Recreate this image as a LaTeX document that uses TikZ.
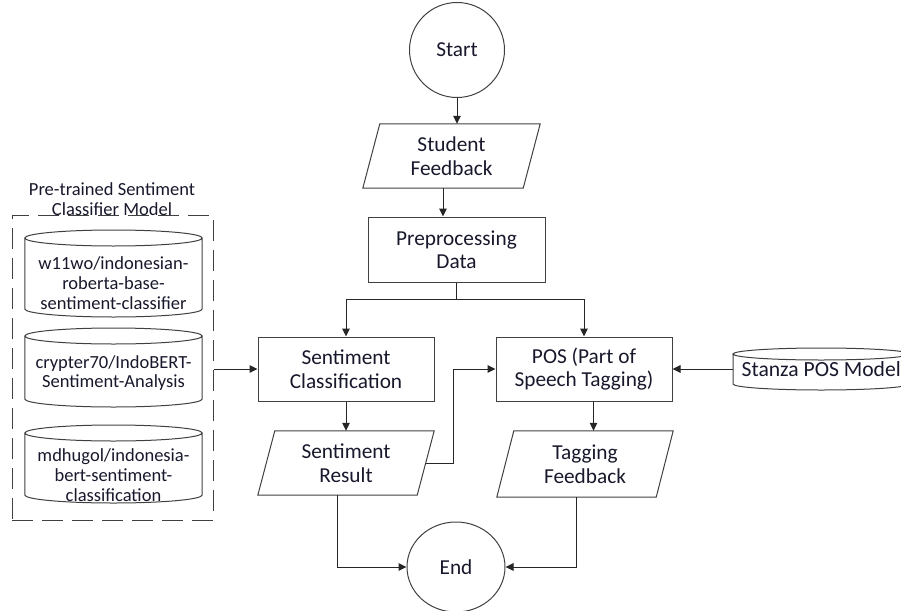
\documentclass[tikz,border=0pt]{standalone}
\usepackage{fontspec}
\setmainfont{Carlito}
\usetikzlibrary{shapes.geometric,arrows.meta,calc}
\definecolor{txt}{RGB}{24,24,44}
\definecolor{ln}{RGB}{64,64,64}
\newcommand\drawpara[2]{\draw[shapeline] ([xshift=#2]#1.north west) -- ([xshift=#2]#1.north east) -- ([xshift=-#2]#1.south east) -- ([xshift=-#2]#1.south west) -- cycle;}
\newcommand\drawcyl[4]{%
 \draw[shapeline] let \p1=(#1.west), \p2=(#1.east), \n1={(\x2-\x1)/2} in
 (\x1,#2pt-#4pt) -- (\x1,#3pt+#4pt) arc[start angle=180,end angle=360,x radius=\n1,y radius=#4pt] -- (\x2,#2pt-#4pt)
 (\x1+\n1,#2pt-#4pt) ellipse[x radius=\n1,y radius=#4pt];}
\begin{document}
\begin{tikzpicture}[x=1pt,y=1pt,
 every node/.style={text=txt, align=center},
 mainfont/.style={font=\fontsize{21.3}{23.5}\selectfont},
 smallfont/.style={font=\fontsize{18.5}{19.8}\selectfont},
 proc/.style={mainfont, draw=ln, line width=1pt, minimum width=176pt, minimum height=64pt, inner sep=0pt},
 term/.style={mainfont, draw=ln, line width=1pt, circle, minimum size=95pt, inner sep=0pt},
 iobox/.style={mainfont, minimum height=64pt, inner sep=0pt},
 cylbox/.style={smallfont, inner sep=0pt, minimum width=177pt},
 edge/.style={draw=black!85, line width=1pt},
 arr/.style={edge, -{Triangle[length=8pt,width=7.5pt]}},
 shapeline/.style={draw=ln, line width=1pt}
]
\useasboundingbox (0,0) rectangle (901,-610);

\node[term] (start) at (457,-50) {Start};
\node[iobox, minimum width=160pt] (sf) at (451.5,-156) {Student\\Feedback};
\drawpara{sf}{8.5pt}
\node[proc, minimum width=177pt, minimum height=65pt] (pre) at (456.5,-249.5) {Preprocessing\\Data};
\node[proc] (sc) at (346,-369) {Sentiment\\Classification};
\node[proc] (pos) at (584,-369) {POS (Part of\\Speech Tagging)};
\node[iobox, minimum width=159pt] (sr) at (346,-463) {Sentiment\\Result};
\drawpara{sr}{8.5pt}
\node[iobox, minimum width=159pt, minimum height=66pt] (tf) at (585,-464) {Tagging\\Feedback};
\drawpara{tf}{8.5pt}
\node[term, ellipse, minimum width=98pt, minimum height=90pt] (end) at (456,-567) {End};

\node[smallfont] (ttl) at (112,-199.5) {Pre-trained Sentiment\\Classifier Model};
\node[draw=ln, line width=1pt, dash pattern=on 21pt off 9pt, minimum width=201pt, minimum height=305pt, inner sep=0pt] (dbox) at (112.5,-367.5) {};

\node[cylbox] (m1) at (113.5,-283) {w11wo/indonesian-\\roberta-base-\\sentiment-classifier};
\drawcyl{m1}{-230}{-317}{8}
\node[cylbox] (m2) at (113.5,-373) {crypter70/IndoBERT-\\Sentiment-Analysis};
\drawcyl{m2}{-328}{-407}{8}
\node[cylbox] (m3) at (113.5,-475) {mdhugol/indonesia-\\bert-sentiment-\\classification};
\drawcyl{m3}{-425}{-503}{8}

\node[font=\fontsize{21.6}{23.5}\selectfont, inner sep=0pt, minimum width=176pt, anchor=west] (stanza) at (733,-369) {Stanza POS Model};
\drawcyl{stanza}{-348}{-390}{6}

\draw[arr] (start.south) -- (start.south |- sf.north);
\draw[arr] ([xshift=-8.5pt]sf.south) -- ([xshift=-8.5pt]sf.south |- pre.north);
\draw[edge] (pre.south) -- ++(0,-17) coordinate (split);
\draw[arr] (split) -| (sc.north);
\draw[arr] (split) -| (pos.north);
\draw[arr] (sc.south) -- (sc.south |- sr.north);
\draw[arr] ([xshift=8.5pt]tf.north |- pos.south) -- ([xshift=8.5pt]tf.north);
\draw[arr] (sr.east) -- ++(28,0) |- (pos.west);
\draw[arr] ([xshift=-8.5pt]sr.south) |- (end.west);
\draw[arr] ([xshift=-8.5pt]tf.south) |- (end.east);
\draw[arr] (stanza.west) -- (pos.east);
\draw[arr] (dbox.east |- sc.west) -- (sc.west);
\end{tikzpicture}
\end{document}
